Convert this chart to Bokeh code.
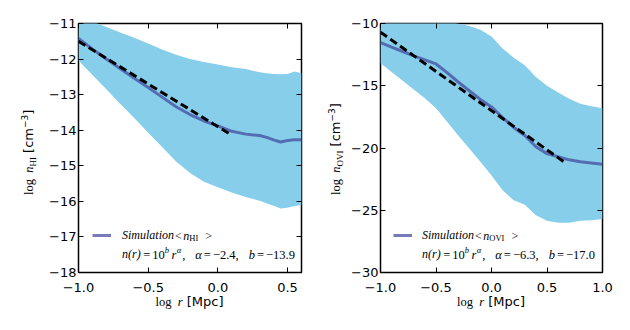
import math
from bokeh.plotting import figure
from bokeh.layouts import row, column
from bokeh.models import (Range1d, FixedTicker, LinearAxis, CustomJSTickFormatter,
                          Label, Legend, LegendItem, Div)
from bokeh.embed import file_html
from bokeh.resources import INLINE

# ---------------- data ----------------
r_hi = [-1.0, -0.9, -0.8, -0.7, -0.6, -0.5, -0.4, -0.3, -0.2, -0.1, 0.0,
        0.1, 0.2, 0.3, 0.35, 0.4, 0.45, 0.5, 0.55, 0.6]
hi_mean = [-11.42, -11.72, -12.0, -12.27, -12.54, -12.8, -13.07, -13.34, -13.56, -13.74,
           -13.88, -14.03, -14.11, -14.15, -14.2, -14.27, -14.33, -14.29, -14.27, -14.27]
hi_upper = [-10.78, -10.94, -11.1, -11.25, -11.4, -11.56, -11.73, -11.88, -12.0, -12.08,
            -12.15, -12.23, -12.28, -12.37, -12.4, -12.42, -12.43, -12.42, -12.35, -12.4]
hi_lower = [-12.04, -12.45, -12.85, -13.26, -13.66, -14.07, -14.47, -14.88, -15.2, -15.45,
            -15.6, -15.75, -15.88, -15.98, -16.05, -16.12, -16.2, -16.18, -16.13, -16.1]
fit_hi_r = [-1.0, 0.1]
fit_hi_n = [-11.5, -14.14]
fit_hi_alpha = "\u22122.4"
fit_hi_b = "\u221213.9"

r_ovi = [-1.0, -0.9, -0.8, -0.7, -0.6, -0.5, -0.4, -0.3, -0.2, -0.1, 0.0,
         0.1, 0.2, 0.3, 0.4, 0.5, 0.6, 0.7, 0.8, 0.9, 1.0]
ovi_mean = [-11.53, -11.9, -12.25, -12.6, -12.92, -13.25, -13.95, -14.7, -15.4, -16.1,
            -16.7, -17.55, -18.35, -19.0, -19.9, -20.45, -20.7, -20.95, -21.1, -21.2, -21.3]
ovi_upper = [-9.0, -9.15, -9.3, -9.45, -9.55, -9.7, -9.85, -10.0, -10.2, -10.5,
             -11.05, -12.0, -12.75, -13.35, -14.3, -15.0, -15.55, -16.05, -16.45, -16.65, -16.8]
ovi_lower = [-13.2, -13.9, -14.6, -15.3, -16.0, -16.8, -17.9, -19.0, -20.05, -21.1,
             -22.2, -23.4, -24.2, -24.55, -25.4, -25.85, -26.0, -26.0, -25.85, -25.8, -25.7]
fit_ovi_r = [-1.0, 0.67]
fit_ovi_n = [-10.7, -21.22]
fit_ovi_alpha = "\u22126.3"
fit_ovi_b = "\u221217.0"

x_ticks_hi = [-1.0, -0.5, 0.0, 0.5]
y_ticks_hi = [-18, -17, -16, -15, -14, -13, -12, -11]
x_ticks_ovi = [-1.0, -0.5, 0.0, 0.5, 1.0]
y_ticks_ovi = [-30, -25, -20, -15, -10]

# ---------------- styling ----------------
SERIF = "Liberation Serif"
SANS = "DejaVu Sans"
BAND = "#87CEEB"
MEAN = "#3f4399"

W_SERIF = {' ': .25, '(': .333, ')': .333, '=': .564, '<': .564, '>': .564, '\u2212': .564,
           ',': .25, '.': .25, 'l': .278, 'o': .5, 'g': .5, 'H': .722, 'I': .333,
           'O': .722, 'V': .722, 'b': .5, 'n': .5, 'r': .333}
W_SERIF_IT = {'S': .5, 'i': .278, 'm': .722, 'u': .5, 'l': .278, 'a': .5, 't': .278,
              'o': .5, 'n': .5, 'r': .389, 'b': .5, '(': .333, ')': .333, '\u03b1': .52, ' ': .25}


def tw(s, style, size):
    t = W_SERIF_IT if style == "italic" else W_SERIF
    return sum(t.get(c, 0.5) for c in s) * size


def P(text, style="normal", size=12.5, shift=0.0, gap=0.0):
    return dict(text=text, style=style, size=size, shift=shift, gap=gap)


def place_h(p, pieces, x0, base):
    cur = x0
    for pc in pieces:
        cur += pc["gap"]
        p.add_layout(Label(x=p.x_range.start, y=p.y_range.start, x_units="data", y_units="data",
                           x_offset=cur, y_offset=base + pc["shift"], text=pc["text"],
                           text_font=SERIF, text_font_style=pc["style"],
                           text_font_size=f"{pc['size']}px", text_color="black",
                           text_align="left", text_baseline="alphabetic"))
        cur += tw(pc["text"], pc["style"], pc["size"])


def style_axis(ax, ticks, dec, show):
    ax.ticker = FixedTicker(ticks=ticks)
    if show:
        ax.formatter = CustomJSTickFormatter(code=f"return tick.toFixed({dec}).replace('-', '\u2212');")
        ax.major_label_text_font_size = "13px"
    else:
        ax.formatter = CustomJSTickFormatter(code="return '';")
        ax.major_label_standoff = 0
    ax.axis_line_color = None
    ax.major_tick_in = 5
    ax.major_tick_out = 0
    ax.minor_tick_in = 0
    ax.minor_tick_out = 0
    ax.major_tick_line_color = "black"
    ax.major_tick_line_width = 1
    ax.major_label_text_font = SANS
    ax.major_label_text_color = "black"


def make_panel(r, mean, upper, lower, fr, fn, xr, yr, xt, yt, fw, bl, br, sub, alpha, b,
               leg_x, txt_x):
    p = figure(x_range=Range1d(*xr), y_range=Range1d(*yr), frame_width=fw, frame_height=249,
               min_border_left=bl, min_border_right=br, min_border_top=23, min_border_bottom=20,
               output_backend="svg", toolbar_location=None, tools="")
    p.grid.visible = False
    p.outline_line_color = "black"
    p.outline_line_width = 1.5
    p.outline_line_alpha = 1.0
    p.background_fill_color = "white"
    p.border_fill_color = "white"

    style_axis(p.xaxis[0], xt, 1, True)
    p.xaxis[0].major_label_standoff = 10
    style_axis(p.yaxis[0], yt, 0, True)
    p.yaxis[0].major_label_standoff = 2
    top = LinearAxis()
    style_axis(top, xt, 1, False)
    p.add_layout(top, "above")
    right = LinearAxis()
    style_axis(right, yt, 0, False)
    p.add_layout(right, "right")

    p.varea(x=r, y1=lower, y2=upper, fill_color=BAND, fill_alpha=1.0)
    r_mean = p.line(r, mean, line_color=MEAN, line_alpha=0.7, line_width=3)
    p.line(fr, fn, line_color="black", line_width=3, line_dash="8 4")
    r_dummy = p.line(x=[], y=[], line_color="black", line_width=3.5, line_dash="9 30")

    leg = Legend(items=[LegendItem(label="Simulation", renderers=[r_mean]),
                        LegendItem(label="n(r)", renderers=[r_dummy])],
                 location=(leg_x, 9), glyph_width=19, glyph_height=18, label_height=18,
                 label_standoff=txt_x - leg_x - 19, padding=0, margin=0, spacing=1,
                 border_line_color=None, background_fill_alpha=0,
                 label_text_font=SERIF, label_text_font_style="italic",
                 label_text_font_size="12px", label_text_color="black")
    p.add_layout(leg)

    row1 = [P("<", size=12, gap=0.5),
            P("n", style="italic", size=12, gap=1.5),
            P(sub, size=8.5, shift=-2.5),
            P(">", size=12, gap=7)]
    place_h(p, row1, txt_x + tw("Simulation", "italic", 12), 37)
    sup = dict(size=8.5, shift=5)
    row2 = [P("=", gap=2), P("10", gap=2),
            P("b", style="italic", **sup),
            P("r", style="italic", gap=2.5),
            P("\u03b1", style="italic", gap=0.5, **sup),
            P(",", gap=1),
            P("\u03b1", style="italic", gap=10),
            P("=", gap=2), P(alpha, gap=2), P(","),
            P("b", style="italic", gap=10),
            P("=", gap=2), P(b, gap=2)]
    place_h(p, row2, txt_x + tw("n(r)", "italic", 12), 18)
    return p


def ylabel_div(width, tx, sub):
    html = (
        f'<div style="position:relative;width:{width}px;height:326px;">'
        f'<div style="position:absolute;left:0;top:0;transform-origin:0 0;'
        f'transform:translate({tx}px,195px) rotate(-90deg);white-space:nowrap;'
        f'line-height:16px;font-size:13px;color:#000;">'
        f'<span style="font-family:\'{SERIF}\';font-size:12.5px;">log&nbsp;&nbsp;<i>n</i>'
        f'<span style="font-size:9px;position:relative;top:2.5px;">{sub}</span></span>'
        f'<span style="font-family:\'{SANS}\';"> [cm'
        f'<span style="font-size:9px;position:relative;top:-5px;">\u22123</span>]</span>'
        f'</div></div>')
    return Div(text=html, width=width, height=326, margin=0)


def xlabel_div(width, center):
    html = (
        f'<div style="position:relative;width:{width}px;height:34px;">'
        f'<div style="position:absolute;left:{center}px;top:0;transform:translateX(-50%);'
        f'white-space:nowrap;line-height:16px;font-size:13px;color:#000;">'
        f'<span style="font-family:\'{SERIF}\';font-size:12.5px;">log&nbsp;&nbsp;<i>r</i></span>'
        f'<span style="font-family:\'{SANS}\';"> [Mpc]</span>'
        f'</div></div>')
    return Div(text=html, width=width, height=34, margin=0)


p1 = make_panel(r_hi, hi_mean, hi_upper, hi_lower, fit_hi_r, fit_hi_n, (-1.0, 0.6), (-18, -11),
                x_ticks_hi, y_ticks_hi, 223, 38, 15, "HI", fit_hi_alpha, fit_hi_b, 14, 44)
p2 = make_panel(r_ovi, ovi_mean, ovi_upper, ovi_lower, fit_ovi_r, fit_ovi_n, (-1.0, 1.0), (-30, -10),
                x_ticks_ovi, y_ticks_ovi, 222, 34, 20, "OVI", fit_ovi_alpha, fit_ovi_b, 13, 42)

panel1 = row(ylabel_div(40, 21, "HI"), column(p1, xlabel_div(276, 149.5)))
panel2 = row(ylabel_div(30, 11.5, "OVI"), column(p2, xlabel_div(276, 145)))
layout = row(panel1, panel2)
open("out.html", "w").write(file_html(layout, INLINE))
